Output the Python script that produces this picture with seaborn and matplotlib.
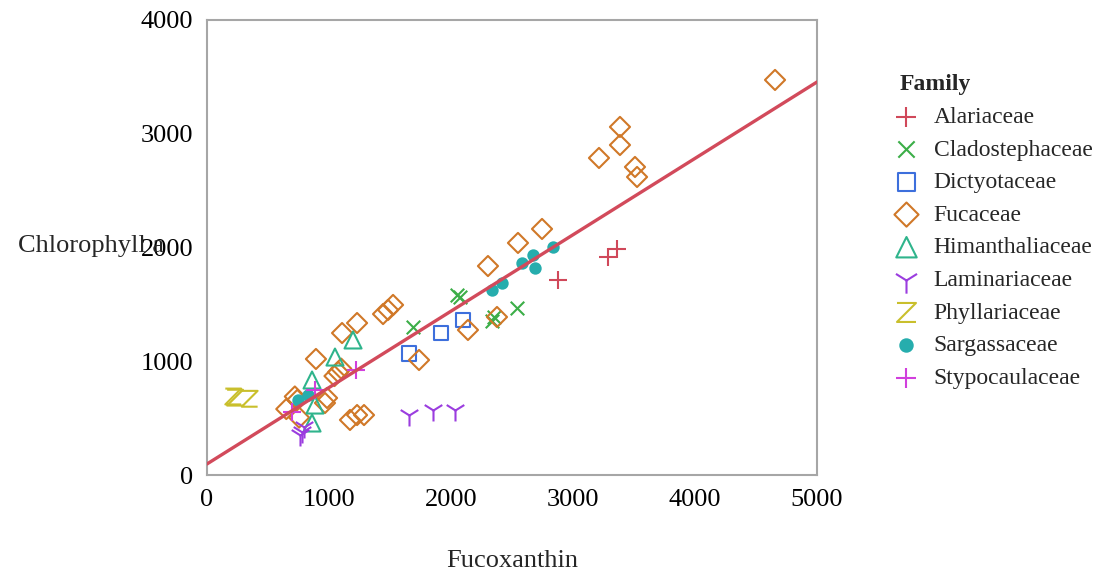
import numpy as np
import pandas as pd
import matplotlib
matplotlib.use('Agg')
import matplotlib.pyplot as plt
import seaborn as sns

# values (Fucoxanthin vs Chlorophyll a)
alaria_x = [2877, 3287, 3361]
alaria_y = [1714, 1916, 1987]
clado_x = [1689, 2050, 2075, 2340, 2350, 2541]
clado_y = [1301, 1580, 1565, 1350, 1390, 1468]
dicty_x = [1656, 1918, 2098]
dicty_y = [1072, 1248, 1363]
fucus_x = [4656, 3385, 3385, 3213, 3508, 3525, 2746, 2549, 2303, 2377, 2139,
           1738, 1525, 1484, 1443, 1230, 1107, 893, 1100, 1075, 1045, 984, 967,
           1172, 1230, 1287, 650, 720, 740, 755]
fucus_y = [3473, 3060, 2901, 2787, 2708, 2620, 2163, 2040, 1837, 1389, 1275,
           1011, 1495, 1451, 1415, 1336, 1248, 1020, 935, 905, 870, 677, 633,
           484, 527, 527, 580, 690, 660, 505]
himan_x = [1197, 1049, 861, 885, 861]
himan_y = [1187, 1037, 835, 615, 457]
lamin_x = [1656, 1852, 2033, 760, 775, 795]
lamin_y = [527, 571, 571, 350, 380, 420]
phyll_x = [215, 230, 350]
phyll_y = [690, 680, 670]
sarga_x = [2836, 2672, 2582, 2689, 2418, 2336, 746, 828]
sarga_y = [2004, 1934, 1864, 1820, 1688, 1626, 659, 703]
stypo_x = [1221, 885, 697]
stypo_y = [923, 747, 554]

fit_intercept = 97
fit_slope = 0.6716

families = ['Alariaceae', 'Cladostephaceae', 'Dictyotaceae', 'Fucaceae',
            'Himanthaliaceae', 'Laminariaceae', 'Phyllariaceae',
            'Sargassaceae', 'Stypocaulaceae']
xs = [alaria_x, clado_x, dicty_x, fucus_x, himan_x, lamin_x, phyll_x, sarga_x, stypo_x]
ys = [alaria_y, clado_y, dicty_y, fucus_y, himan_y, lamin_y, phyll_y, sarga_y, stypo_y]

colors = ['#d0485a', '#3cae48', '#3d6fdc', '#d07828', '#2fb48c',
          '#9b3ddf', '#c9bf2c', '#26adad', '#d13fdd']
z_marker = [(-1, 1), (1, 1), (-1, -1), (1, -1)]
markers = ['+', 'x', 's', 'D', '^', '1', z_marker, 'o', '+']
sizes = [150, 95, 115, 105, 150, 250, 130, 55, 150]
# markers drawn only with lines need a face colour, the others stay hollow
line_markers = ['Alariaceae', 'Cladostephaceae', 'Laminariaceae',
                'Sargassaceae', 'Stypocaulaceae']

sns.set_style('white')
plt.rcParams['font.family'] = ['Liberation Serif', 'DejaVu Serif']

fig = plt.figure(figsize=(11.02, 5.73), dpi=100)
ax = fig.add_axes([207/1102, 1 - 475/573, 610/1102, 455/573])

for fam, x, y, c, m, s in zip(families, xs, ys, colors, markers, sizes):
    df = pd.DataFrame({'Fucoxanthin': x, 'Chlorophyll a': y})
    face = c if fam in line_markers else 'none'
    sns.scatterplot(data=df, x='Fucoxanthin', y='Chlorophyll a', ax=ax,
                    marker=m, s=s, color=c, facecolor=face, edgecolor=c,
                    linewidth=1.5, label=fam, zorder=3)

line_x = np.array([0, 5000])
sns.lineplot(x=line_x, y=fit_intercept + fit_slope * line_x, ax=ax,
             color='#d24a5b', linewidth=2.4, zorder=4)

ax.set_xlim(0, 5000)
ax.set_ylim(0, 4000)
ax.set_xticks(range(0, 5001, 1000))
ax.set_yticks(range(0, 4001, 1000))
for sp in ax.spines.values():
    sp.set_visible(True)
    sp.set_color('#a6a6a6')
    sp.set_linewidth(1.5)
ax.tick_params(axis='both', direction='out', length=6, width=1.2,
               color='#a6a6a6', labelsize=19, labelcolor='black', pad=4)

ax.set_xlabel('Fucoxanthin', fontsize=19, labelpad=28)
ax.set_ylabel('Chlorophyll a', fontsize=19, rotation=0, ha='left', va='center')
ax.yaxis.set_label_coords(-0.31, 0.503)

leg = ax.legend(title='Family', loc='upper left', bbox_to_anchor=(1.108, 0.917),
                frameon=False, fontsize=17, markerscale=1.2, handlelength=0.6,
                handletextpad=0.85, labelspacing=0.47, borderpad=0.2,
                alignment='left')
leg.get_title().set_fontsize(17)
leg.get_title().set_fontweight('bold')

fig.savefig('out.png', dpi=100)
